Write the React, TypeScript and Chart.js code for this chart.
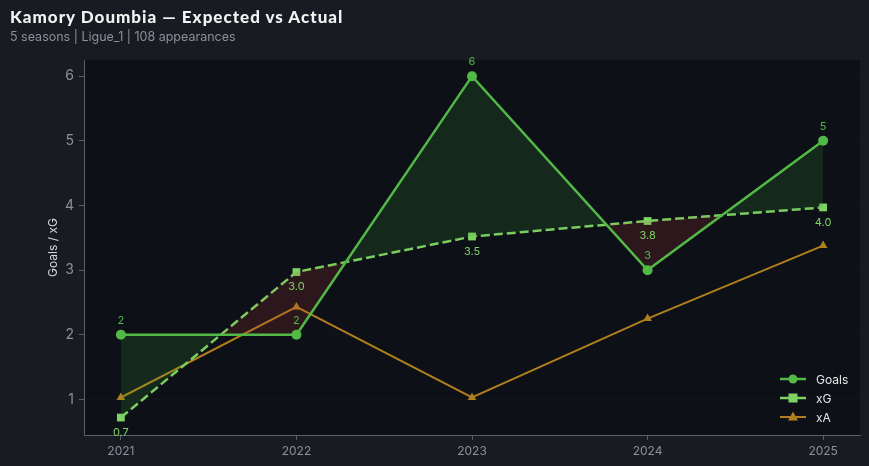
import React, { useEffect, useRef } from "react";
import { Chart, registerables } from "chart.js";

Chart.register(...registerables);

const years = [2021, 2022, 2023, 2024, 2025];
const goals = [2, 2, 6, 3, 5];
const xg = [0.72, 2.97, 3.52, 3.76, 3.97];
const xa = [1.03, 2.43, 1.03, 2.25, 3.38];
const yTicks = [1, 2, 3, 4, 5, 6];

const GOALS_C = "#52b947";
const XG_C = "#7dd463";
const XA_C = "#b07f1e";

const bgPlugin = {
  id: "plotBg",
  beforeDraw(chart: any) {
    const { ctx, chartArea: a } = chart;
    ctx.save();
    ctx.fillStyle = "#0d1016";
    ctx.fillRect(a.left, a.top, a.right - a.left, a.bottom - a.top);
    ctx.restore();
  },
};

const labelPlugin = {
  id: "valLabels",
  afterDatasetsDraw(chart: any) {
    const { ctx } = chart;
    ctx.save();
    ctx.font = "11px Inter";
    ctx.textAlign = "center";
    ctx.textBaseline = "middle";
    const g = chart.getDatasetMeta(0);
    g.data.forEach((p: any, i: number) => {
      ctx.fillStyle = GOALS_C;
      ctx.fillText(String(goals[i]), p.x, p.y - 14);
    });
    const x = chart.getDatasetMeta(1);
    x.data.forEach((p: any, i: number) => {
      ctx.fillStyle = XG_C;
      ctx.fillText(xg[i].toFixed(1), p.x, p.y + 15);
    });
    ctx.restore();
  },
};

const legendPlugin = {
  id: "customLegend",
  afterDraw(chart: any) {
    const { ctx, chartArea: a } = chart;
    const items = [
      { label: "Goals", color: GOALS_C, style: "circle", w: 2.5 },
      { label: "xG", color: XG_C, style: "rect", w: 2.5 },
      { label: "xA", color: XA_C, style: "triangle", w: 2 },
    ];
    const x0 = a.right - 80;
    let y = a.bottom - 56;
    ctx.save();
    items.forEach((it) => {
      ctx.strokeStyle = it.color;
      ctx.lineWidth = it.w;
      ctx.beginPath();
      ctx.moveTo(x0, y);
      ctx.lineTo(x0 + 26, y);
      ctx.stroke();
      ctx.fillStyle = it.color;
      const cx = x0 + 13;
      ctx.beginPath();
      if (it.style === "circle") {
        ctx.arc(cx, y, 4.5, 0, Math.PI * 2);
      } else if (it.style === "rect") {
        ctx.rect(cx - 4.5, y - 4.5, 9, 9);
      } else {
        ctx.moveTo(cx, y - 5.5);
        ctx.lineTo(cx + 5, y + 3.5);
        ctx.lineTo(cx - 5, y + 3.5);
        ctx.closePath();
      }
      ctx.fill();
      ctx.fillStyle = "#e6e6e6";
      ctx.font = "12px Inter";
      ctx.textAlign = "left";
      ctx.textBaseline = "middle";
      ctx.fillText(it.label, x0 + 36, y + 1);
      y += 19;
    });
    ctx.restore();
  },
};

export default function App() {
  const ref = useRef<HTMLCanvasElement>(null);
  useEffect(() => {
    document.body.style.margin = "0";
    const chart = new Chart(ref.current!, {
      type: "line",
      data: {
        datasets: [
          {
            label: "Goals",
            data: years.map((y, i) => ({ x: y, y: goals[i] })),
            borderColor: GOALS_C,
            backgroundColor: GOALS_C,
            borderWidth: 2.5,
            pointStyle: "circle",
            pointRadius: 5,
            pointBorderWidth: 0,
            fill: { target: 1, above: "rgba(60,160,60,0.17)", below: "rgba(200,60,60,0.17)" },
            tension: 0,
          },
          {
            label: "xG",
            data: years.map((y, i) => ({ x: y, y: xg[i] })),
            borderColor: XG_C,
            backgroundColor: XG_C,
            borderWidth: 2.5,
            borderDash: [9, 4],
            pointStyle: "rect",
            pointRadius: 5.5,
            pointBorderWidth: 0,
            fill: false,
          },
          {
            label: "xA",
            data: years.map((y, i) => ({ x: y, y: xa[i] })),
            borderColor: XA_C,
            backgroundColor: XA_C,
            borderWidth: 2,
            pointStyle: "triangle",
            pointRadius: 5,
            pointBorderWidth: 0,
            fill: false,
          },
        ],
      },
      options: {
        animation: false,
        responsive: false,
        maintainAspectRatio: false,
        layout: { padding: { top: 60, right: 9, left: 0, bottom: 0 } },
        plugins: {
          legend: { display: false },
          tooltip: { enabled: false },
        },
        scales: {
          x: {
            type: "linear",
            min: 2020.79,
            max: 2025.21,
            afterBuildTicks: (s: any) => {
              s.ticks = years.map((v) => ({ value: v }));
            },
            afterFit: (s: any) => {
              s.height = 31;
            },
            ticks: {
              color: "#8b9099",
              font: { size: 12, family: "Inter" },
              callback: (v: any) => String(v),
              padding: 4,
            },
            grid: {
              drawOnChartArea: false,
              tickColor: "#5a5f68",
              tickLength: 5,
            },
            border: { color: "#5a5f68", width: 1 },
          },
          y: {
            min: 0.45,
            max: 6.25,
            afterBuildTicks: (s: any) => {
              s.ticks = yTicks.map((v) => ({ value: v }));
            },
            afterFit: (s: any) => {
              s.width = 84;
            },
            ticks: {
              color: "#8b9099",
              font: { size: 14, family: "Inter" },
              padding: 5,
            },
            grid: {
              color: "rgba(255,255,255,0.018)",
              tickColor: "#5a5f68",
              tickLength: 5,
            },
            border: { color: "#5a5f68", width: 1 },
            title: {
              display: true,
              text: "Goals / xG",
              color: "#d8d8d8",
              font: { size: 12, family: "Inter" },
              padding: { top: 46, bottom: 0 },
            },
          },
        },
      },
      plugins: [bgPlugin, labelPlugin, legendPlugin],
    });
    return () => chart.destroy();
  }, []);

  return (
    <div style={{ position: "relative", width: 869, height: 466, background: "#181b22", overflow: "hidden" }}>
      <canvas ref={ref} width={869} height={466} style={{ position: "absolute", left: 0, top: 0 }} />
      <div
        style={{
          position: "absolute",
          left: 10,
          top: 6,
          color: "#f2f2f2",
          fontFamily: "Lato, sans-serif",
          fontWeight: 900,
          fontSize: 17,
          letterSpacing: 1,
          whiteSpace: "nowrap",
        }}
      >
        Kamory Doumbia — Expected vs Actual
      </div>
      <div
        style={{
          position: "absolute",
          left: 10,
          top: 29,
          color: "#8b9099",
          fontFamily: "Inter, sans-serif",
          fontSize: 12.5,
          whiteSpace: "nowrap",
        }}
      >
        5 seasons | Ligue_1 | 108 appearances
      </div>
    </div>
  );
}
